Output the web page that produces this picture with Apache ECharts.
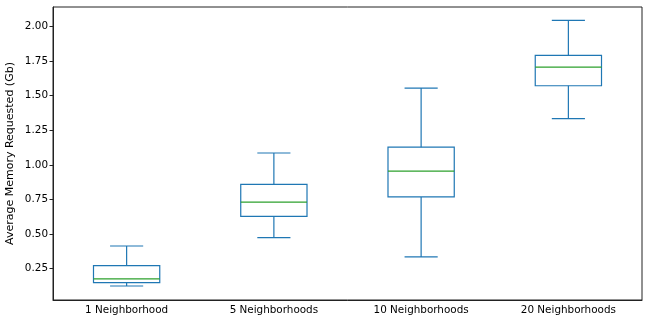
<!DOCTYPE html>
<html>
<head>
<meta charset="utf-8">
<script src="https://cdn.jsdelivr.net/npm/echarts@6/dist/echarts.min.js"></script>
<style>html,body{margin:0;padding:0;background:#fff;}#c{width:650px;height:326px;}</style>
</head>
<body>
<div id="c"></div>
<script>
const categories = ['1 Neighborhood', '5 Neighborhoods', '10 Neighborhoods', '20 Neighborhoods'];
const whiskerLow = [0.125, 0.474, 0.335, 1.334];
const q1 = [0.149, 0.628, 0.769, 1.572];
const median = [0.176, 0.731, 0.955, 1.707];
const q3 = [0.272, 0.859, 1.128, 1.791];
const whiskerHigh = [0.414, 1.086, 1.555, 2.045];
const yTicks = [0.25, 0.5, 0.75, 1.0, 1.25, 1.5, 1.75, 2.0];

const data = categories.map((c, i) => [i, whiskerLow[i], q1[i], median[i], q3[i], whiskerHigh[i]]);
const BLUE = '#1f77b4', GREEN = '#2ca02c';

const chart = echarts.init(document.getElementById('c'), null, {renderer: 'canvas'});
chart.setOption({
  animation: false,
  grid: {left: 53, right: 8, top: 7, bottom: 26, show: true, borderColor: '#222', borderWidth: 1,
    backgroundColor: 'transparent', containLabel: false, outerBoundsMode: 'none'},
  xAxis: {
    type: 'category', data: categories, boundaryGap: true,
    axisLine: {lineStyle: {color: '#222', width: 1}},
    axisTick: {alignWithLabel: true, length: 3.5, lineStyle: {color: '#222'}},
    axisLabel: {color: '#000', fontFamily: 'DejaVu Sans', fontSize: 10.4, margin: 5},
    splitLine: {show: false}
  },
  yAxis: {
    type: 'value', min: 0.024, max: 2.141,
    name: 'Average Memory Requested (Gb)', nameLocation: 'middle', nameGap: 37, nameMoveOverlap: false,
    nameTextStyle: {color: '#000', fontFamily: 'DejaVu Sans', fontSize: 11},
    axisLine: {show: true, lineStyle: {color: '#222', width: 1}},
    axisTick: {show: true, length: 3.5, customValues: yTicks, lineStyle: {color: '#222'}},
    axisLabel: {color: '#000', fontFamily: 'DejaVu Sans', fontSize: 10.4, margin: 5, customValues: yTicks,
      formatter: v => v.toFixed(2)},
    splitLine: {show: false}
  },
  series: [{
    type: 'custom',
    data: data,
    encode: {x: 0, y: [1, 2, 3, 4, 5]},
    renderItem: function (params, api) {
      const idx = api.value(0);
      const band = api.size([1, 0])[0];
      const bw = band * 0.45, cw = bw / 2;
      const pLow = api.coord([idx, api.value(1)]);
      const pQ1 = api.coord([idx, api.value(2)]);
      const pMed = api.coord([idx, api.value(3)]);
      const pQ3 = api.coord([idx, api.value(4)]);
      const pHigh = api.coord([idx, api.value(5)]);
      const x = pQ1[0];
      const ls = {stroke: BLUE, lineWidth: 1.2, fill: null};
      return {
        type: 'group',
        children: [
          {type: 'rect', shape: {x: x - bw / 2, y: pQ3[1], width: bw, height: pQ1[1] - pQ3[1]}, style: {stroke: BLUE, lineWidth: 1.2, fill: 'none'}},
          {type: 'line', shape: {x1: x, y1: pQ3[1], x2: x, y2: pHigh[1]}, style: ls},
          {type: 'line', shape: {x1: x, y1: pQ1[1], x2: x, y2: pLow[1]}, style: ls},
          {type: 'line', shape: {x1: x - cw / 2, y1: pHigh[1], x2: x + cw / 2, y2: pHigh[1]}, style: ls},
          {type: 'line', shape: {x1: x - cw / 2, y1: pLow[1], x2: x + cw / 2, y2: pLow[1]}, style: ls},
          {type: 'line', shape: {x1: x - bw / 2, y1: pMed[1], x2: x + bw / 2, y2: pMed[1]}, style: {stroke: GREEN, lineWidth: 1.2}}
        ]
      };
    }
  }]
});
</script>
</body>
</html>
